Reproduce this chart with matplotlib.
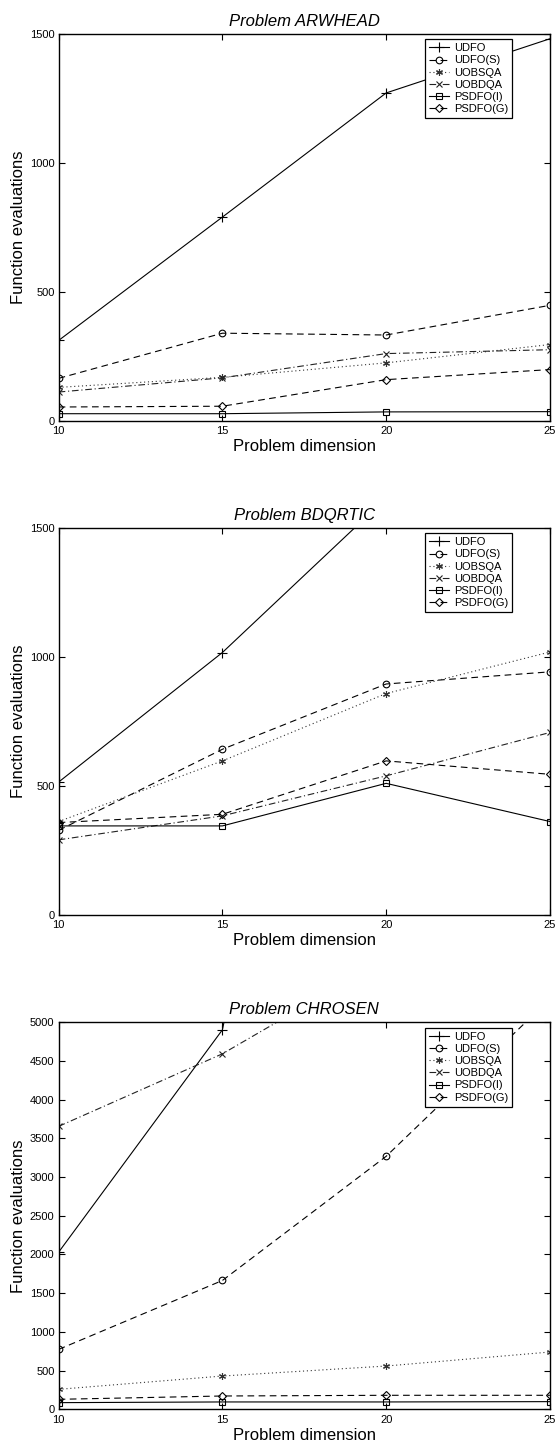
import matplotlib
matplotlib.use("Agg")
import matplotlib.pyplot as plt

plt.rcParams['font.family'] = ['Liberation Sans', 'DejaVu Sans']

dims = [10, 15, 20, 25]
labels = ["UDFO", "UDFO(S)", "UOBSQA", "UOBDQA", "PSDFO(I)", "PSDFO(G)"]

# Problem ARWHEAD
arwhead_udfo = [312, 790, 1271, 1481]
arwhead_udfo_s = [165, 340, 333, 448]
arwhead_uobsqa = [130, 169, 225, 296]
arwhead_uobdqa = [112, 167, 261, 276]
arwhead_psdfo_i = [28, 28, 35, 36]
arwhead_psdfo_g = [54, 57, 160, 199]

# Problem BDQRTIC
bdqrtic_udfo = [515, 1017, 1615, 2100]
bdqrtic_udfo_s = [328, 642, 895, 942]
bdqrtic_uobsqa = [362, 597, 858, 1019]
bdqrtic_uobdqa = [291, 384, 539, 707]
bdqrtic_psdfo_i = [345, 345, 510, 362]
bdqrtic_psdfo_g = [358, 390, 597, 545]

# Problem CHROSEN
chrosen_udfo = [2030, 4902, 15000, 25000]
chrosen_udfo_s = [774, 1664, 3268, 5300]
chrosen_uobsqa = [258, 430, 559, 740]
chrosen_uobdqa = [3655, 4592, 5820, 7000]
chrosen_psdfo_i = [86, 95, 95, 99]
chrosen_psdfo_g = [129, 172, 181, 181]

titles = ["Problem ARWHEAD", "Problem BDQRTIC", "Problem CHROSEN"]
ylims = [1500, 1500, 5000]
yticks = [[0, 500, 1000, 1500], [0, 500, 1000, 1500],
          list(range(0, 5001, 500))]
series = [
    [arwhead_udfo, arwhead_udfo_s, arwhead_uobsqa, arwhead_uobdqa, arwhead_psdfo_i, arwhead_psdfo_g],
    [bdqrtic_udfo, bdqrtic_udfo_s, bdqrtic_uobsqa, bdqrtic_uobdqa, bdqrtic_psdfo_i, bdqrtic_psdfo_g],
    [chrosen_udfo, chrosen_udfo_s, chrosen_uobsqa, chrosen_uobdqa, chrosen_psdfo_i, chrosen_psdfo_g],
]

styles = [
    dict(ls='-', marker='+', ms=6.5, color='black'),
    dict(ls=(0, (6, 4)), marker='o', ms=4.8, color='black'),
    dict(ls=(0, (1, 2.5)), marker=(6, 2, 0), ms=5, color='#333333'),
    dict(ls=(0, (6, 2.5, 1, 2.5)), marker='x', ms=3.8, color='#222222'),
    dict(ls='-', marker='s', ms=4.2, color='black'),
    dict(ls=(0, (6, 4)), marker='D', ms=4.2, color='black'),
]

fig = plt.figure(figsize=(5.56, 14.47), dpi=100)
bottoms = [0.7091, 0.3677, 0.02605]
for i in range(3):
    ax = fig.add_axes([0.1055, bottoms[i], 0.989 - 0.1055, 0.2675])
    for lab, ys, st in zip(labels, series[i], styles):
        ax.plot(dims, ys, lw=0.8, mfc='none', mec=st['color'],
                mew=0.8, label=lab, clip_on=True, **st)
    ax.set_xlim(10, 25)
    ax.set_ylim(0, ylims[i])
    ax.set_xticks(dims)
    ax.set_yticks(yticks[i])
    ax.tick_params(direction='in', top=True, right=True, labelsize=8,
                   length=4, width=0.8)
    ax.tick_params(axis='x', pad=4)
    ax.tick_params(axis='y', pad=3)
    for sp in ax.spines.values():
        sp.set_linewidth(1.0)
    ax.set_title(titles[i], fontsize=12, style='italic', pad=6)
    ax.set_xlabel("Problem dimension", fontsize=12, labelpad=2)
    ax.set_ylabel("Function evaluations", fontsize=12, labelpad=3)
    leg = ax.legend(loc='upper right', bbox_to_anchor=(0.9226, 0.986),
                    borderaxespad=0, fontsize=8, numpoints=1,
                    handlelength=1.8, handletextpad=0.4, labelspacing=0.2,
                    borderpad=0.35, fancybox=False, framealpha=1,
                    edgecolor='black')
    leg.get_frame().set_linewidth(0.9)

fig.savefig("out.png", dpi=100)
